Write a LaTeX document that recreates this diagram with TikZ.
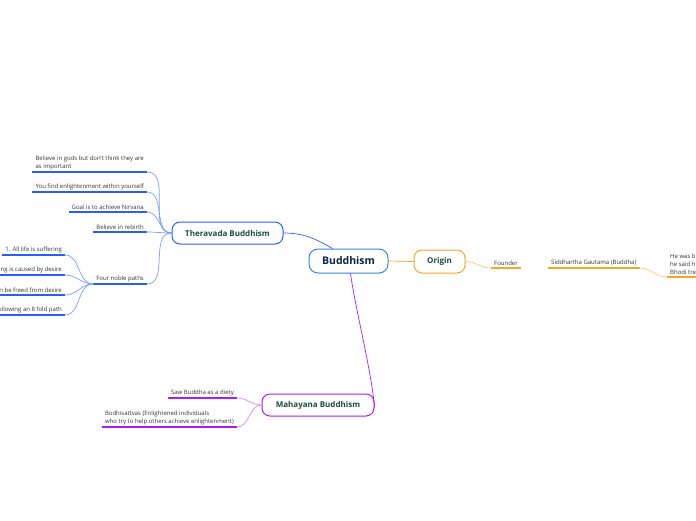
\documentclass[tikz,border=0pt]{standalone}
\usepackage{fontspec}
\setmainfont{Open Sans}
\usetikzlibrary{positioning}

\definecolor{bluebr}{HTML}{2B5CFF}
\definecolor{bluelt}{HTML}{7D9BFF}
\definecolor{rootbr}{HTML}{3A86D6}
\definecolor{orangebr}{HTML}{F5A623}
\definecolor{orangelt}{HTML}{F9CB7A}
\definecolor{purplebr}{HTML}{A91EF2}
\definecolor{purplelt}{HTML}{D28CF8}
\definecolor{titlegreen}{HTML}{1D4B3A}
\definecolor{rootnavy}{HTML}{0E2340}
\definecolor{leafgray}{HTML}{333333}

\begin{document}
\begin{tikzpicture}[
						x=1pt, y=-1pt,
						line cap=round,
						line join=round,
						topic/.style={draw, line width=1pt, fill=white, rounded corners=8pt,
							font=\fontsize{8}{9}\selectfont\bfseries, text=titlegreen,
							minimum height=22pt, inner xsep=6pt},
						leaf/.style={font=\fontsize{6}{8}\selectfont, text=leafgray,
							align=left, inner xsep=3pt, inner ysep=2.2pt},
						uline/.style={line width=1.5pt, line cap=butt},
						link/.style={line width=0.7pt}
						]
						
						% Frame
						\useasboundingbox (0,0) rectangle (696,520);
						
						% Main topics
						\node[draw=rootbr, line width=1pt, fill=white, rounded corners=9pt,
							font=\fontsize{10.5}{12}\selectfont\bfseries, text=rootnavy,
							minimum width=79pt, minimum height=24pt] (root) at (348.5,261) {Buddhism};
						\node[topic, draw=bluebr, minimum width=111pt] (thera) at (227.5,233) {Theravada Buddhism};
						\node[topic, draw=orangebr, minimum width=51pt, minimum height=23pt] (origin) at (439.5,261.5) {Origin};
						\node[topic, draw=purplebr, minimum width=112pt] (maha) at (318,405) {Mahayana Buddhism};
						
						\draw[link, bluebr] (thera.east) to[out=0,in=150] ([xshift=-16pt]root.north);
						\draw[link, orangebr] (root.east) -- (origin.west);
						\draw[link, purplebr] ([xshift=2pt]root.south) to[out=-82,in=95,looseness=0.7] ([yshift=-2pt]maha.east);
						
						% Theravada
						\node[leaf, anchor=south east] (t1) at (147,172) {Believe in gods but don't think they are\\as important};
						\node[leaf, anchor=south east] (t2) at (147,192) {You find enlightenment within yourself};
						\node[leaf, anchor=south east] (t3) at (147,212) {Goal is to achieve Nirvana};
						\node[leaf, anchor=south east] (t4) at (147,232) {Believe in rebirth};
						\node[leaf, anchor=south east] (t5) at (147,284) {Four noble paths};
						\foreach \n in {t1,t2,t3,t4,t5}{
							\draw[uline, bluebr] (\n.south west) -- (\n.south east);
							\draw[link, bluelt] (\n.south east) to[out=0,in=180] (thera.west);
						}
						
						% Four noble paths
						\node[leaf, anchor=south east] (p1) at (65,255) {1. All life is suffering};
						\node[leaf, anchor=south east] (p2) at (65,275) {2. Suffering is caused by desire};
						\node[leaf, anchor=south east] (p3) at (65,295) {3. You can be freed from desire};
						\node[leaf, anchor=south east] (p4) at (65,315) {4. By following an 8 fold path};
						\foreach \n in {p1,p2,p3,p4}{
							\draw[uline, bluebr] (\n.south west) -- (\n.south east);
							\draw[link, bluelt] (\n.south east) to[out=0,in=180] (t5.south west);
						}
						
						% Origin
						\node[leaf, anchor=south west] (o1) at (491,268) {Founder};
						\node[leaf, anchor=south west] (o2) at (548,268) {Siddhartha Gautama (Buddha)};
						\node[leaf, anchor=south west, inner ysep=2.6pt] (o3) at (667,277) {He was b\\he said h\\Bhodi tre};
						\draw[uline, orangebr] (o1.south west) -- (o1.south east);
						\draw[uline, orangebr] (o2.south west) -- (o2.south east);
						\draw[uline, orangebr] (o3.south west) -- (700,277);
						\draw[link, orangelt] (origin.east) to[out=0,in=180] (o1.south west);
						\draw[link, orangelt] (o2.south east) to[out=0,in=180] (o3.south west);
						
						% Mahayana
						\node[leaf, anchor=south east] (m1) at (237,398) {Saw Buddha as a diety};
						\node[leaf, anchor=south east] (m2) at (237,427) {Bodhisattvas (Enlightened individuals\\who try to help others achieve enlightenment)};
						\foreach \n in {m1,m2}{
							\draw[uline, purplebr] (\n.south west) -- (\n.south east);
							\draw[link, purplelt] (\n.south east) to[out=0,in=180] (maha.west);
						}
						
					\end{tikzpicture}
\end{document}
